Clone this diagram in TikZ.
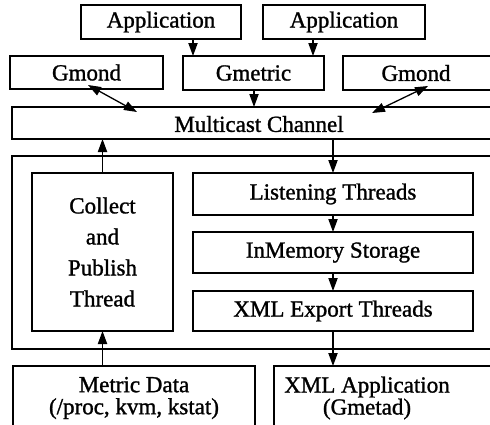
\documentclass[tikz,border=0pt]{standalone}
\usepackage{fontspec}
\setmainfont{Liberation Serif}[FakeBold=1.2]
\usetikzlibrary{arrows.meta,calc}
\begin{document}
\begin{tikzpicture}[x=0.5pt,y=-0.5pt,
  box/.style={draw=black,line width=0.65pt,inner sep=0pt,outer sep=0pt,font=\fontsize{11.5}{12}\selectfont},
  arr/.style={line width=0.65pt,-{Triangle[length=6.5pt,width=4.6pt]}},
  darr/.style={line width=0.65pt,{Triangle[length=6.5pt,width=4.6pt]}-{Triangle[length=6.5pt,width=4.6pt]}}]
\useasboundingbox (0,0) rectangle (490,424);
\clip (0,0) rectangle (490,424);
% top
\node[box,minimum width=80pt,minimum height=17pt] (app1) at (161,22) {Application};
\node[box,minimum width=81pt,minimum height=17pt] (app2) at (344,22) {Application};
\node[box,minimum width=76.5pt,minimum height=16.5pt] (gmond1) at (86.5,72.5) {Gmond};
\node[box,minimum width=70.5pt,minimum height=17pt] (gmetric) at (253.5,73) {Gmetric};
\node[box,minimum width=76pt,minimum height=17pt,anchor=west] (gmond2) at (343,73) {};
\node[font=\fontsize{11.5}{12}\selectfont] (gmond2t) at (416,73) {Gmond};
\node[box,minimum width=241.5pt,minimum height=16pt,anchor=north west] (multicast) at (12,107) {};
\node[font=\fontsize{11.5}{12}\selectfont] (multit) at (259,124) {Multicast Channel};
% container
\node[box,minimum width=242pt,minimum height=96.5pt,anchor=north west] (outer) at (12,156) {};
\node[box,minimum width=70.5pt,minimum height=79pt,align=center,font=\fontsize{11.5}{15.5}\selectfont] (collect) at (102.5,252) {Collect\\and\\Publish\\Thread};
\node[box,minimum width=140pt,minimum height=21pt] (listen) at (333,194) {Listening Threads};
\node[box,minimum width=140pt,minimum height=20.5pt] (inmem) at (333,252.5) {InMemory Storage};
\node[box,minimum width=140pt,minimum height=20pt] (xmlexp) at (333,311) {XML Export Threads};
% bottom
\node[box,minimum width=121pt,minimum height=32pt,align=center,font=\fontsize{11.5}{11}\selectfont] (metric) at (134,398) {Metric Data\\(/proc, kvm, kstat)};
\node[box,minimum width=110.5pt,minimum height=32pt,anchor=north west] (xmlapp) at (274,366) {};
\node[align=center,font=\fontsize{11.5}{11}\selectfont] (xmlappt) at (367,398) {XML Application\\(Gmetad)};
% connectors
\coordinate (xa) at (193,0);
\coordinate (xb) at (313,0);
\coordinate (xc) at (254,0);
\coordinate (xd) at (333,0);
\draw[arr] (app1.south -| xa) -- (gmetric.north -| xa);
\draw[arr] (app2.south -| xb) -- (gmetric.north -| xb);
\draw[arr] (gmetric.south -| xc) -- (multicast.north -| xc);
\draw[darr] ($(gmond1.south)+(1.5,-4)$) -- ($(multicast.north west)+(125,5)$);
\draw[darr] ($(gmond2.south west)+(85,-4)$) -- ($(multicast.north west)+(360,6)$);
\draw[arr] (collect.north) -- (collect.north |- multicast.south);
\draw[arr] (multicast.south -| xd) -- (listen.north);
\draw[arr] (listen.south) -- (inmem.north);
\draw[arr] (inmem.south) -- (xmlexp.north);
\draw[arr] (xmlexp.south) -- (xmlexp.south |- xmlapp.north);
\draw[arr] (collect.south |- metric.north) -- (collect.south);
\end{tikzpicture}
\end{document}
